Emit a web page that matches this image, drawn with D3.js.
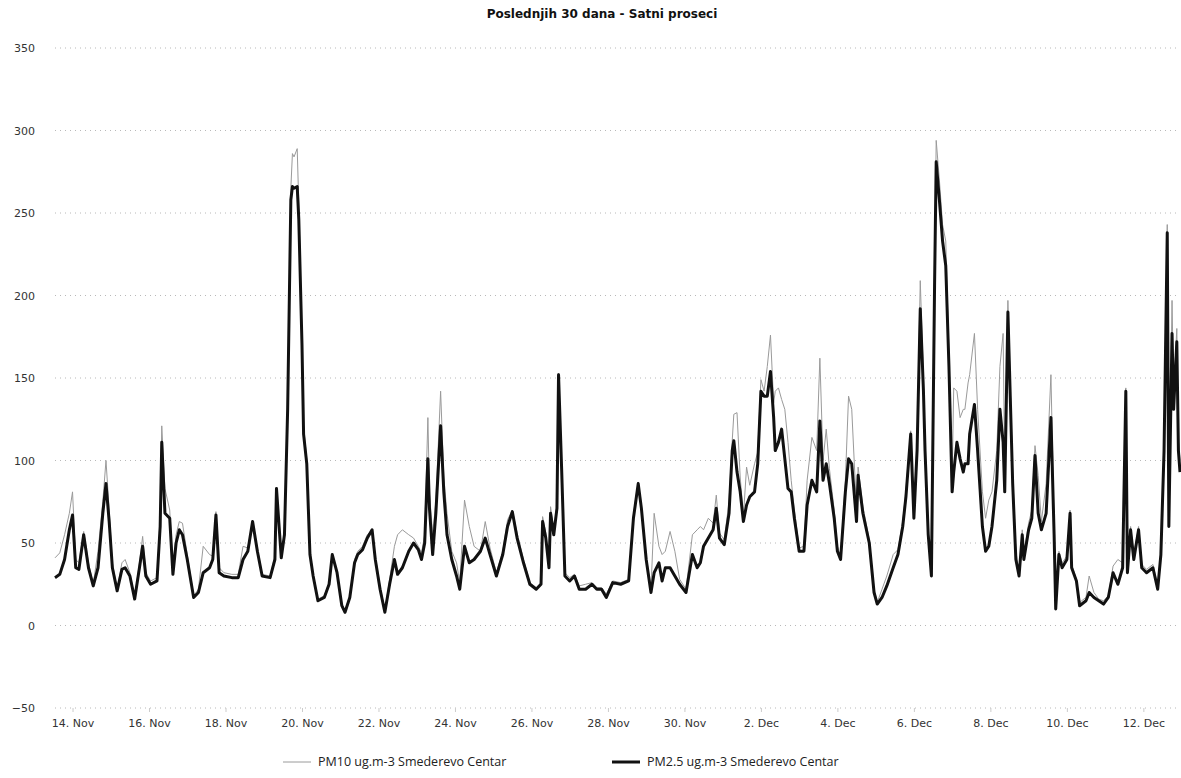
<!DOCTYPE html>
<html>
<head>
<meta charset="utf-8">
<script src="https://cdn.jsdelivr.net/npm/d3@7/dist/d3.min.js"></script>
<style>
  body { margin: 0; background: #fff; }
  svg { display: block; }
</style>
</head>
<body>
<div id="chart"></div>
<script>
// Hours since 13 Nov 00:00
const hours = [13,16,19,22,24,26,28,31,34,37,40,43,45,47,49,52,55,57,60,63,66,68,70,73,77,79,80,82,85,87,89,91,93,96,100,103,106,110,112,114,116,119,124,128,131,134,137,140,143,148,151,152,155,157,159,161,162,163,165,166,168,169,171,173,175,178,182,185,187,190,193,195,198,201,203,206,209,212,214,217,220,223,226,228,231,235,238,241,243,245,247,248,250,252,255,257,259,262,265,267,270,273,276,280,283,286,290,294,297,300,303,307,311,315,318,319,321,323,324,326,328,329,331,333,336,339,342,346,350,353,356,359,363,368,373,376,377,379,381,384,387,389,392,394,396,399,402,405,409,413,416,418,420,423,426,428,430,433,436,438,439,441,443,445,447,449,452,454,456,458,460,462,464,465,467,469,471,473,475,477,480,483,485,488,491,493,495,497,499,502,504,506,509,511,513,516,517,520,524,527,529,532,535,539,542,545,547,550,552,554,556,558,559,561,563,565,566,568,570,572,574,576,577,579,581,583,584,586,587,590,592,595,597,599,601,604,606,608,609,611,614,616,618,620,621,624,626,628,630,632,635,638,640,641,643,645,648,650,651,654,656,660,662,665,668,671,674,677,680,683,685,686,688,690,693,695,698,702,705,707,709,711,712,714,715,717,718,719];

const pm10 = [41,44,55,68,81,40,38,57,38,25,45,75,100,70,38,22,38,40,32,17,38,54,32,27,29,66,121,83,70,35,55,63,62,43,18,22,48,43,42,69,35,32,31,31,48,47,63,47,31,30,42,83,42,57,135,265,286,284,289,255,175,120,101,45,31,16,18,26,43,33,13,9,18,40,45,48,55,58,42,24,9,28,48,55,58,55,53,48,44,55,126,80,55,75,142,90,68,45,38,26,76,60,48,45,63,47,32,45,64,70,56,40,26,23,26,66,56,38,72,58,73,153,95,32,29,31,24,25,26,23,23,19,27,26,28,67,74,87,72,42,22,68,48,43,45,57,45,28,22,55,58,60,58,65,62,79,56,52,75,112,128,129,90,66,96,85,98,105,149,142,157,176,135,142,144,137,131,111,88,70,47,48,88,114,106,162,100,119,95,70,48,42,88,139,131,70,96,72,52,22,14,22,30,43,46,63,82,118,70,110,209,150,110,58,32,215,294,270,243,233,165,90,144,142,126,131,131,147,152,177,131,81,65,76,81,106,157,177,95,197,92,45,32,58,43,62,70,109,91,63,86,152,60,12,45,38,42,70,37,28,14,17,30,20,16,15,18,36,40,38,144,35,60,43,60,37,34,37,24,45,110,243,65,197,140,180,112,100];

const pm25 = [29,31,40,58,67,35,34,55,35,24,35,68,86,63,35,21,34,35,30,16,35,48,30,25,27,60,111,68,65,31,50,58,55,40,17,20,32,35,40,67,32,30,29,29,40,45,63,45,30,29,40,83,41,55,131,258,266,265,266,246,170,116,98,43,30,15,17,25,43,32,12,8,17,38,43,46,53,58,40,22,8,25,40,31,35,45,50,46,40,50,101,71,43,68,121,81,55,40,30,22,48,38,40,45,53,43,30,43,60,69,53,38,25,22,25,63,53,35,68,55,71,152,93,30,27,30,22,22,25,22,22,17,26,25,27,65,72,86,71,40,20,32,38,27,35,35,30,25,20,43,35,38,48,53,58,71,53,49,68,106,112,93,81,63,73,78,81,98,142,139,139,154,126,106,111,119,101,83,81,65,45,45,73,88,81,124,88,98,86,65,45,40,81,101,98,63,91,68,50,20,13,17,24,35,43,60,78,116,65,106,192,142,106,55,30,208,281,258,233,218,157,81,93,111,101,93,98,98,116,134,106,60,45,48,60,88,131,111,81,190,86,40,30,55,40,58,65,103,68,58,68,126,55,10,43,35,40,68,35,27,12,15,20,17,15,13,17,32,25,35,142,32,58,40,58,35,32,35,22,43,106,238,60,177,131,172,106,93];

const seriesNames = ["PM10 ug.m-3 Smederevo Centar", "PM2.5 ug.m-3 Smederevo Centar"];
const seriesColors = ["#9a9a9a", "#111111"];
const seriesWidths = [1, 3];

const tickHours = [24,72,120,168,216,264,312,360,408,456,504,552,600,648,696];
const tickLabels = ["14. Nov","16. Nov","18. Nov","20. Nov","22. Nov","24. Nov","26. Nov","28. Nov","30. Nov","2. Dec","4. Dec","6. Dec","8. Dec","10. Dec","12. Dec"];
const yTicks = [-50,0,50,100,150,200,250,300,350];

const title = "Poslednjih 30 dana - Satni proseci";

// Size of the picture and the plot area
const width = 1181, height = 778;
const margin = { top: 48, right: 1, bottom: 70, left: 55 };

const svg = d3.select("#chart")
  .append("svg")
  .attr("width", width)
  .attr("height", height);

// Scales
const x = d3.scaleLinear()
  .domain([hours[0], hours[hours.length - 1]])
  .range([margin.left, width - margin.right]);

const y = d3.scaleLinear()
  .domain([-50, 350])
  .range([height - margin.bottom, margin.top]);

// Dotted grid lines
svg.append("g")
  .selectAll("line")
  .data(yTicks)
  .enter()
  .append("line")
  .attr("x1", margin.left)
  .attr("x2", width - margin.right)
  .attr("y1", d => y(d))
  .attr("y2", d => y(d))
  .attr("stroke", "#b8b8b8")
  .attr("stroke-width", 1)
  .attr("stroke-dasharray", "1 4");

// Y axis, labels only
const yAxis = svg.append("g")
  .attr("transform", `translate(${margin.left},0)`)
  .call(d3.axisLeft(y).tickValues(yTicks).tickSize(0).tickPadding(20));
yAxis.select(".domain").remove();
yAxis.selectAll("text")
  .attr("font-family", "DejaVu Sans, Verdana, sans-serif")
  .attr("font-size", 11)
  .attr("fill", "#333");

// X axis
const xAxis = svg.append("g")
  .attr("transform", `translate(0,${y(-50)})`)
  .call(d3.axisBottom(x)
    .tickValues(tickHours)
    .tickFormat((d, i) => tickLabels[i])
    .tickSize(4)
    .tickPadding(7));
xAxis.select(".domain").remove();
xAxis.selectAll(".tick line").attr("stroke", "#ccc");
xAxis.selectAll("text")
  .attr("font-family", "DejaVu Sans, Verdana, sans-serif")
  .attr("font-size", 11)
  .attr("fill", "#333");

// Lines
const series = [pm10, pm25];
series.forEach((vals, s) => {
  const line = d3.line()
    .x((d, i) => x(hours[i]))
    .y(d => y(d));
  svg.append("path")
    .datum(vals)
    .attr("fill", "none")
    .attr("stroke", seriesColors[s])
    .attr("stroke-width", seriesWidths[s])
    .attr("stroke-linejoin", "round")
    .attr("d", line);
});

// Title
svg.append("text")
  .attr("x", 602)
  .attr("y", 18)
  .attr("text-anchor", "middle")
  .attr("font-family", "DejaVu Sans, Verdana, sans-serif")
  .attr("font-weight", "bold")
  .attr("font-size", 12)
  .attr("fill", "#111")
  .text(title);

// Legend
const legendX = [283, 612];
const legend = svg.append("g").attr("transform", "translate(0,762)");
seriesNames.forEach((name, i) => {
  legend.append("line")
    .attr("x1", legendX[i])
    .attr("x2", legendX[i] + 28)
    .attr("y1", 0)
    .attr("y2", 0)
    .attr("stroke", seriesColors[i])
    .attr("stroke-width", seriesWidths[i]);
  legend.append("text")
    .attr("x", legendX[i] + 35)
    .attr("y", 4)
    .attr("font-family", "Open Sans, sans-serif")
    .attr("font-size", 12.5)
    .attr("fill", "#222")
    .text(name);
});
</script>
</body>
</html>
